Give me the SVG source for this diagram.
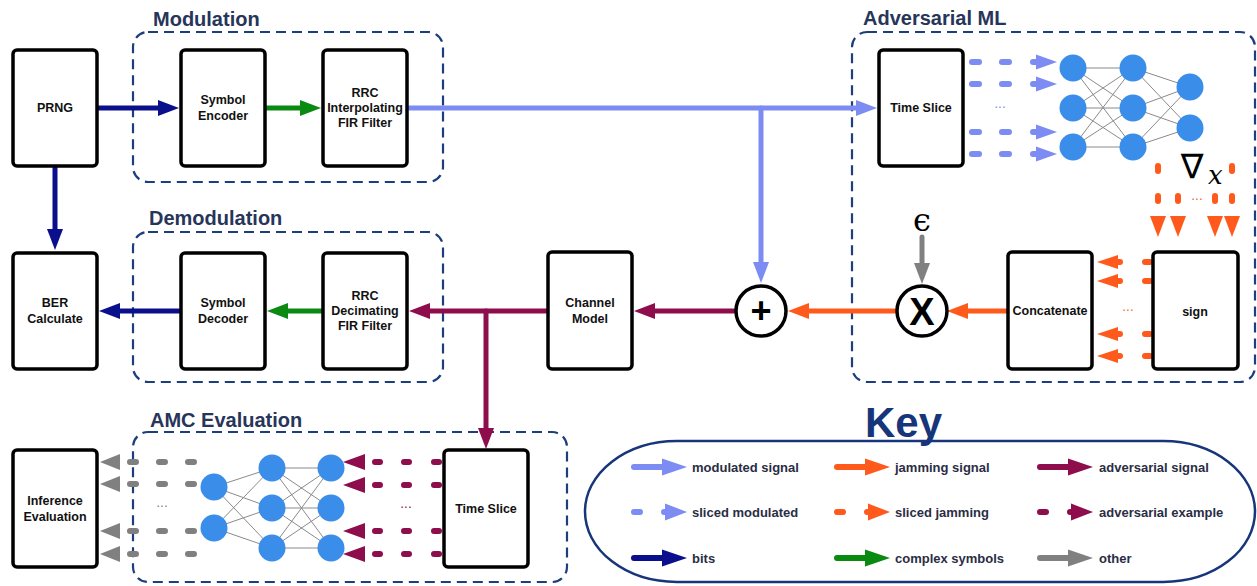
<svg xmlns="http://www.w3.org/2000/svg" width="1257" height="586" viewBox="0 0 1257 586">
<style>
.box{fill:#fff;stroke:#000;stroke-width:3.5}
.grp{fill:none;stroke:#1c3f7c;stroke-width:2.2;stroke-dasharray:10,6}
.glabel{font-family:"Liberation Sans",Arial,sans-serif;font-weight:bold;font-size:20px;fill:#27355a}
.nt{font-family:"Liberation Sans",Arial,sans-serif;font-weight:bold;font-size:12.5px;fill:#111;text-anchor:middle}
.kt{font-family:"Liberation Sans",Arial,sans-serif;font-weight:bold;font-size:13px;fill:#2a2d44}
.ln{fill:none;stroke-width:5;stroke-linecap:round}
.dl{fill:none;stroke-width:6;stroke-linecap:round}
.nn{fill:#3a8de8}
.ed{stroke:#8a8a8a;stroke-width:1}
.blue{stroke:#7c8cf2}.fblue{fill:#7c8cf2}
.navy{stroke:#0a0f8c}.fnavy{fill:#0a0f8c}
.green{stroke:#0b8a12}.fgreen{fill:#0b8a12}
.maroon{stroke:#8e0d4c}.fmaroon{fill:#8e0d4c}
.orange{stroke:#ff5a1c}.forange{fill:#ff5a1c}
.gray{stroke:#808080}.fgray{fill:#808080}
.dots{font-family:"DejaVu Sans",sans-serif;font-size:12px;text-anchor:middle}
</style>
<defs>
<marker id="h-blue" markerUnits="userSpaceOnUse" markerWidth="22" markerHeight="17" refX="0" refY="8" orient="auto"><path d="M0,0 L21,8 L0,16 z" fill="#7c8cf2"/></marker>
<marker id="h-navy" markerUnits="userSpaceOnUse" markerWidth="22" markerHeight="17" refX="0" refY="8" orient="auto"><path d="M0,0 L21,8 L0,16 z" fill="#0a0f8c"/></marker>
<marker id="h-green" markerUnits="userSpaceOnUse" markerWidth="22" markerHeight="17" refX="0" refY="8" orient="auto"><path d="M0,0 L21,8 L0,16 z" fill="#0b8a12"/></marker>
<marker id="h-maroon" markerUnits="userSpaceOnUse" markerWidth="22" markerHeight="17" refX="0" refY="8" orient="auto"><path d="M0,0 L21,8 L0,16 z" fill="#8e0d4c"/></marker>
<marker id="h-orange" markerUnits="userSpaceOnUse" markerWidth="22" markerHeight="17" refX="0" refY="8" orient="auto"><path d="M0,0 L21,8 L0,16 z" fill="#ff5a1c"/></marker>
<marker id="h-gray" markerUnits="userSpaceOnUse" markerWidth="22" markerHeight="17" refX="0" refY="8" orient="auto"><path d="M0,0 L21,8 L0,16 z" fill="#808080"/></marker>
</defs>
<rect width="1257" height="586" fill="#fff"/>

<!-- groups -->
<g id="modulation">
<rect class="grp" x="133" y="32" width="310" height="150" rx="15"/>
<text class="glabel" x="153" y="26">Modulation</text>
</g>
<g id="demodulation">
<rect class="grp" x="133" y="232" width="310" height="150" rx="15"/>
<text class="glabel" x="149" y="225">Demodulation</text>
</g>
<g id="adversarial-ml">
<rect class="grp" x="852" y="32" width="403" height="350" rx="15"/>
<text class="glabel" x="863" y="25">Adversarial ML</text>
</g>
<g id="amc-evaluation">
<rect class="grp" x="133" y="432" width="434" height="150" rx="15"/>
<text class="glabel" x="150" y="427">AMC Evaluation</text>
</g>

<!-- connectors -->
<g id="connectors">
<path class="ln navy" d="M99,108 H158" marker-end="url(#h-navy)"/>
<path class="ln green" d="M267,108 H300" marker-end="url(#h-green)"/>
<path class="ln blue" d="M409,108 H856" marker-end="url(#h-blue)"/>
<path class="ln blue" d="M761,108 V262" stroke-linecap="butt" marker-end="url(#h-blue)"/>
<path class="ln navy" d="M55,168 V229" stroke-linecap="butt" marker-end="url(#h-navy)"/>
<path class="ln maroon" d="M547,311 H430" marker-end="url(#h-maroon)"/>
<path class="ln maroon" d="M486,311 V428" stroke-linecap="butt" marker-end="url(#h-maroon)"/>
<path class="ln maroon" d="M735,311 H655" marker-end="url(#h-maroon)"/>
<path class="ln orange" d="M897,311 H809" marker-end="url(#h-orange)"/>
<path class="ln orange" d="M1006,311 H968" marker-end="url(#h-orange)"/>
<path class="ln gray" d="M922,237 V263" stroke-linecap="butt" marker-end="url(#h-gray)"/>
<path class="ln green" d="M323,311 H288" marker-end="url(#h-green)"/>
<path class="ln navy" d="M181,311 H120" marker-end="url(#h-navy)"/>

<!-- sliced modulated (top) -->
<g class="blue">
<path class="dl" d="M972,62 H979 M1002,62 H1009 M1033,62 H1038 M972,84 H979 M1002,84 H1009 M1033,84 H1038 M972,132 H979 M1002,132 H1009 M1033,132 H1038 M972,154 H979 M1002,154 H1009 M1033,154 H1038"/>
</g>
<g class="fblue">
<polygon points="1036,54.5 1057,62 1036,69.5"/>
<polygon points="1036,76.5 1057,84 1036,91.5"/>
<polygon points="1036,124.5 1057,132 1036,139.5"/>
<polygon points="1036,146.5 1057,154 1036,161.5"/>
</g>
<text class="dots" x="1000" y="112" fill="#7c8cf2">···</text>

<!-- sliced jamming down -->
<g class="orange">
<path class="dl" d="M1158,166 V171 M1232,166 V171 M1158,196 V201 M1178,196 V201 M1215,196 V201 M1232,196 V201"/>
</g>
<g class="forange">
<polygon points="1150,216 1166,216 1158,237"/>
<polygon points="1170,216 1186,216 1178,237"/>
<polygon points="1207,216 1223,216 1215,237"/>
<polygon points="1224,216 1240,216 1232,237"/>
</g>
<text class="dots" x="1197" y="204" fill="#ff5a1c">···</text>

<!-- sliced jamming left -->
<g class="orange">
<path class="dl" d="M1145,262 H1150 M1145,281 H1150 M1145,334 H1150 M1145,356 H1150 M1115,262 H1120 M1115,281 H1120 M1115,334 H1120 M1115,356 H1120"/>
</g>
<g class="forange">
<polygon points="1118,255 1097,262 1118,269"/>
<polygon points="1118,274 1097,281 1118,288"/>
<polygon points="1118,327 1097,334 1118,341"/>
<polygon points="1118,349 1097,356 1118,363"/>
</g>
<text class="dots" x="1128" y="315" fill="#ff5a1c">···</text>

<!-- AMC adversarial example (maroon) -->
<g class="maroon">
<path class="dl" d="M375,462 H380 M404,462 H409 M434,462 H439 M375,485 H380 M404,485 H409 M434,485 H439 M375,531 H380 M404,531 H409 M434,531 H439 M375,554 H380 M404,554 H409 M434,554 H439"/>
</g>
<g class="fmaroon">
<polygon points="365,454 343,462 365,470"/>
<polygon points="365,477 343,485 365,493"/>
<polygon points="365,523 343,531 365,539"/>
<polygon points="365,546 343,554 365,562"/>
</g>
<text class="dots" x="406" y="512" fill="#8e0d4c">···</text>

<!-- AMC other (gray) -->
<g class="gray">
<path class="dl" d="M130,462 H136 M159,462 H165 M188,462 H194 M130,484 H136 M159,484 H165 M188,484 H194 M130,531 H136 M159,531 H165 M188,531 H194 M130,554 H136 M159,554 H165 M188,554 H194"/>
</g>
<g class="fgray">
<polygon points="120,454 100,462 120,470"/>
<polygon points="120,476 100,484 120,492"/>
<polygon points="120,523 100,531 120,539"/>
<polygon points="120,546 100,554 120,562"/>
</g>
<text class="dots" x="162" y="511" fill="#808080">···</text>
</g>

<!-- nodes -->
<g id="prng"><rect class="box" x="13" y="50" width="84" height="116" rx="4"/><text class="nt" x="55" y="112">PRNG</text></g>
<g id="symbol-encoder"><rect class="box" x="181" y="50" width="84" height="116" rx="4"/><text class="nt" x="223" y="104">Symbol</text><text class="nt" x="223" y="120">Encoder</text></g>
<g id="rrc-interp"><rect class="box" x="323" y="50" width="84" height="116" rx="4"/><text class="nt" x="365" y="97">RRC</text><text class="nt" x="365" y="112">Interpolating</text><text class="nt" x="365" y="127">FIR Filter</text></g>
<g id="ber"><rect class="box" x="13" y="253" width="84" height="116" rx="4"/><text class="nt" x="55" y="307">BER</text><text class="nt" x="55" y="323">Calculate</text></g>
<g id="symbol-decoder"><rect class="box" x="181" y="253" width="84" height="116" rx="4"/><text class="nt" x="223" y="307">Symbol</text><text class="nt" x="223" y="323">Decoder</text></g>
<g id="rrc-decim"><rect class="box" x="323" y="253" width="84" height="116" rx="4"/><text class="nt" x="365" y="300">RRC</text><text class="nt" x="365" y="315">Decimating</text><text class="nt" x="365" y="330">FIR Filter</text></g>
<g id="channel-model"><rect class="box" x="548" y="252" width="84" height="117" rx="4"/><text class="nt" x="590" y="307">Channel</text><text class="nt" x="590" y="323">Model</text></g>
<g id="sum"><circle cx="761" cy="311" r="25" fill="#fff" stroke="#000" stroke-width="3.5"/><text x="761" y="323" text-anchor="middle" font-family="Liberation Sans,Arial,sans-serif" font-weight="bold" font-size="36" fill="#000">+</text></g>
<g id="mult"><circle cx="922" cy="311" r="25" fill="#fff" stroke="#000" stroke-width="3.5"/><text x="922" y="325" text-anchor="middle" font-family="Liberation Sans,Arial,sans-serif" font-weight="bold" font-size="38" fill="#000">X</text></g>
<g id="epsilon"><text x="922" y="231" text-anchor="middle" font-family="DejaVu Serif,serif" font-size="32" fill="#000">ϵ</text></g>
<g id="time-slice-top"><rect class="box" x="879" y="50" width="84" height="116" rx="4"/><text class="nt" x="921" y="112">Time Slice</text></g>
<g id="concatenate"><rect class="box" x="1008" y="252" width="84" height="117" rx="4"/><text class="nt" x="1050" y="315">Concatenate</text></g>
<g id="sign"><rect class="box" x="1153" y="252" width="85" height="117" rx="4"/><text class="nt" x="1195" y="316">sign</text></g>
<g id="gradient"><text x="1192" y="178" text-anchor="middle" font-family="DejaVu Sans,sans-serif" font-size="34" fill="#000">∇</text><text x="1208" y="184" font-family="DejaVu Serif,serif" font-style="italic" font-size="26" fill="#000">x</text></g>
<g id="inference"><rect class="box" x="13" y="450" width="84" height="117" rx="4"/><text class="nt" x="55" y="505">Inference</text><text class="nt" x="55" y="521">Evaluation</text></g>
<g id="time-slice-bottom"><rect class="box" x="444" y="450" width="84" height="117" rx="4"/><text class="nt" x="486" y="513">Time Slice</text></g>

<!-- neural net top -->
<g id="nn-top">
<g class="ed">
<path d="M1073,68 L1133,68 M1073,68 L1133,108 M1073,68 L1133,147 M1073,108 L1133,68 M1073,108 L1133,108 M1073,108 L1133,147 M1073,147 L1133,68 M1073,147 L1133,108 M1073,147 L1133,147 M1133,68 L1190,87 M1133,68 L1190,128 M1133,108 L1190,87 M1133,108 L1190,128 M1133,147 L1190,87 M1133,147 L1190,128"/>
</g>
<circle class="nn" cx="1073" cy="68" r="13.5"/><circle class="nn" cx="1073" cy="108" r="13.5"/><circle class="nn" cx="1073" cy="147" r="13.5"/>
<circle class="nn" cx="1133" cy="68" r="13.5"/><circle class="nn" cx="1133" cy="108" r="13.5"/><circle class="nn" cx="1133" cy="147" r="13.5"/>
<circle class="nn" cx="1190" cy="87" r="13.5"/><circle class="nn" cx="1190" cy="128" r="13.5"/>
</g>

<!-- neural net AMC -->
<g id="nn-amc">
<g class="ed">
<path d="M214,487 L272,468 M214,487 L272,508 M214,487 L272,548 M214,528 L272,468 M214,528 L272,508 M214,528 L272,548 M272,468 L331,468 M272,468 L331,508 M272,468 L331,548 M272,508 L331,468 M272,508 L331,508 M272,508 L331,548 M272,548 L331,468 M272,548 L331,508 M272,548 L331,548"/>
</g>
<circle class="nn" cx="214" cy="487" r="13.5"/><circle class="nn" cx="214" cy="528" r="13.5"/>
<circle class="nn" cx="272" cy="468" r="13.5"/><circle class="nn" cx="272" cy="508" r="13.5"/><circle class="nn" cx="272" cy="548" r="13.5"/>
<circle class="nn" cx="331" cy="468" r="13.5"/><circle class="nn" cx="331" cy="508" r="13.5"/><circle class="nn" cx="331" cy="548" r="13.5"/>
</g>

<!-- key -->
<g id="key">
<text x="865" y="437" font-family="Liberation Sans,Arial,sans-serif" font-weight="bold" font-size="42" fill="#17357a">Key</text>
<rect x="585" y="441" width="670" height="141" rx="92" ry="70.5" fill="none" stroke="#17357a" stroke-width="2.5"/>
<path class="dl blue" d="M634,467 H664"/><polygon class="fblue" points="662,458.5 687,467 662,475.5"/>
<path class="dl blue" d="M634,512 H640 M664,512 H668"/><polygon class="fblue" points="665,503.5 687,512 665,520.5"/>
<path class="dl navy" d="M634,558 H664"/><polygon class="fnavy" points="662,549.5 687,558 662,566.5"/>
<path class="dl orange" d="M837,467 H867"/><polygon class="forange" points="865,458.5 890,467 865,475.5"/>
<path class="dl orange" d="M837,512 H843 M867,512 H871"/><polygon class="forange" points="868,503.5 890,512 868,520.5"/>
<path class="dl green" d="M837,558 H867"/><polygon class="fgreen" points="865,549.5 890,558 865,566.5"/>
<path class="dl maroon" d="M1040,467 H1070"/><polygon class="fmaroon" points="1068,458.5 1093,467 1068,475.5"/>
<path class="dl maroon" d="M1040,512 H1046 M1070,512 H1074"/><polygon class="fmaroon" points="1071,503.5 1093,512 1071,520.5"/>
<path class="dl gray" d="M1040,558 H1070"/><polygon class="fgray" points="1068,549.5 1093,558 1068,566.5"/>
<text class="kt" x="692" y="472">modulated signal</text>
<text class="kt" x="692" y="517">sliced modulated</text>
<text class="kt" x="692" y="563">bits</text>
<text class="kt" x="895" y="472">jamming signal</text>
<text class="kt" x="895" y="517">sliced jamming</text>
<text class="kt" x="895" y="563">complex symbols</text>
<text class="kt" x="1099" y="472">adversarial signal</text>
<text class="kt" x="1099" y="517">adversarial example</text>
<text class="kt" x="1099" y="563">other</text>
</g>
</svg>
